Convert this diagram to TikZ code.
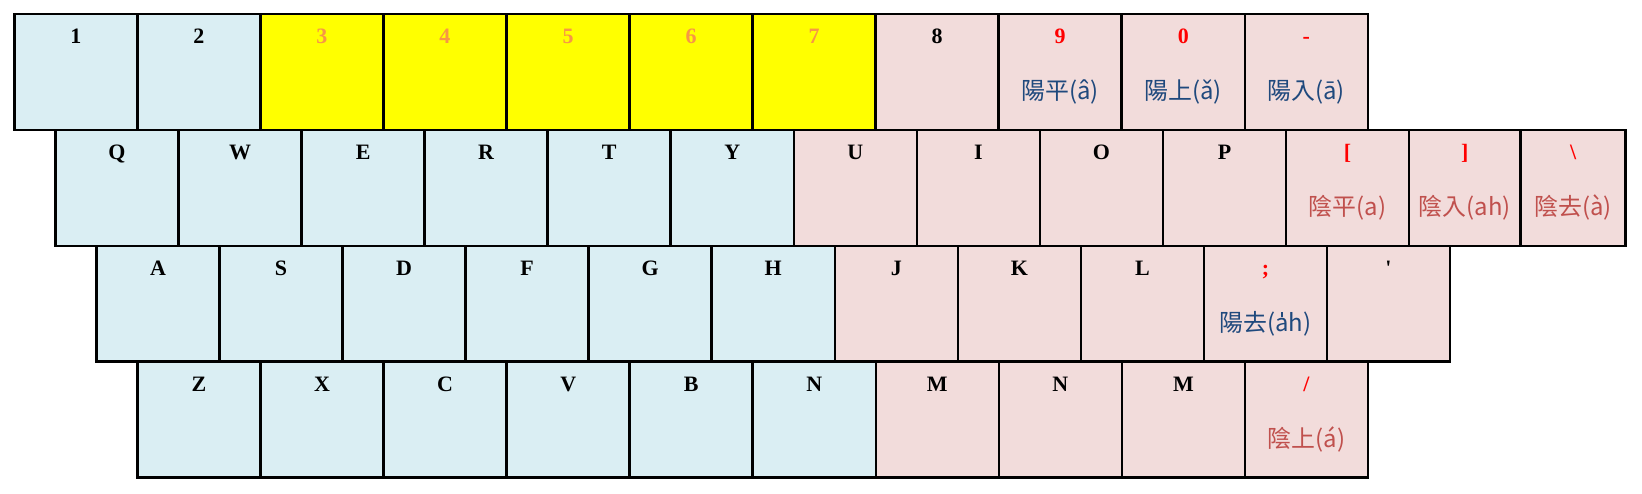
\documentclass[tikz,border=0pt]{standalone}
\usepackage{fontspec}
\setmainfont{Liberation Serif}[Ligatures=TeXOff]
\newfontfamily\cjk{Noto Sans CJK TC}
\usetikzlibrary{positioning}
\definecolor{keyblue}{HTML}{DAEEF3}
\definecolor{keypink}{HTML}{F2DCDB}
\definecolor{keyyellow}{HTML}{FFFF00}
\definecolor{digitorange}{HTML}{F79646}
\definecolor{yangblue}{HTML}{1F497D}
\definecolor{yinred}{HTML}{C0504D}
\newcommand{\kbkey}[5]{%
  \node[#3, #2] (#1) {};
  \node[keylbl, #5] (#1-t) at ([yshift=-0.586cm]#1.north) {#4};}
\newcommand{\tickA}{\ooalign{a\cr\hidewidth\rule[0.6em]{0.07em}{0.2em}\hidewidth\cr}}

\begin{document}
\begin{tikzpicture}[
  key/.style={draw, line width=0.052cm, outer sep=0pt, inner sep=0pt, minimum width=2.461cm, minimum height=2.318cm},
  cold/.style={key, fill=keyblue},
  warm/.style={key, fill=keypink},
  hot/.style={key, fill=keyyellow},
  keylbl/.style={anchor=base, inner sep=0pt, font=\bfseries\fontsize{12.5}{14}\selectfont},
  tone/.style={anchor=base, inner sep=0pt, font=\cjk\fontsize{13.6}{16}\selectfont},
  yang/.style={tone, text=yangblue},
  yin/.style={tone, text=yinred}
]
\useasboundingbox[fill=white] (0,0) rectangle (32.84,-9.86);
% number row
\kbkey{k1}{anchor=north west, at={(0.286,-0.28)}}{cold}{1}{}
\kbkey{k2}{right=0pt of k1}{cold}{2}{}
\kbkey{k3}{right=0pt of k2}{hot}{3}{text=digitorange}
\kbkey{k4}{right=0pt of k3}{hot}{4}{text=digitorange}
\kbkey{k5}{right=0pt of k4}{hot}{5}{text=digitorange}
\kbkey{k6}{right=0pt of k5}{hot}{6}{text=digitorange}
\kbkey{k7}{right=0pt of k6}{hot}{7}{text=digitorange}
\kbkey{k8}{right=0pt of k7}{warm}{8}{}
\kbkey{k9}{right=0pt of k8}{warm}{9}{text=red}
\kbkey{k0}{right=0pt of k9}{warm}{0}{text=red}
\kbkey{kminus}{right=0pt of k0}{warm}{-}{text=red}
% top letter row
\kbkey{kQ}{anchor=north west, at={([xshift=0.824cm]k1.south west)}}{cold}{Q}{}
\kbkey{kW}{right=0pt of kQ}{cold}{W}{}
\kbkey{kE}{right=0pt of kW}{cold}{E}{}
\kbkey{kR}{right=0pt of kE}{cold}{R}{}
\kbkey{kT}{right=0pt of kR}{cold}{T}{}
\kbkey{kY}{right=0pt of kT}{cold}{Y}{}
\kbkey{kU}{right=0pt of kY}{warm}{U}{}
\kbkey{kI}{right=0pt of kU}{warm}{I}{}
\kbkey{kO}{right=0pt of kI}{warm}{O}{}
\kbkey{kP}{right=0pt of kO}{warm}{P}{}
\kbkey{klbrack}{right=0pt of kP}{warm}{[}{text=red}
\kbkey{krbrack}{right=0pt of klbrack, minimum width=2.23cm}{warm}{]}{text=red}
\kbkey{kbslash}{right=0pt of krbrack, minimum width=2.10cm}{warm}{\textbackslash}{text=red}
% home row
\kbkey{kA}{anchor=north west, at={([xshift=0.82cm]kQ.south west)}}{cold}{A}{}
\kbkey{kS}{right=0pt of kA}{cold}{S}{}
\kbkey{kD}{right=0pt of kS}{cold}{D}{}
\kbkey{kF}{right=0pt of kD}{cold}{F}{}
\kbkey{kG}{right=0pt of kF}{cold}{G}{}
\kbkey{kH}{right=0pt of kG}{cold}{H}{}
\kbkey{kJ}{right=0pt of kH}{warm}{J}{}
\kbkey{kK}{right=0pt of kJ}{warm}{K}{}
\kbkey{kL}{right=0pt of kK}{warm}{L}{}
\kbkey{ksemi}{right=0pt of kL}{warm}{;}{text=red}
\kbkey{kquote}{right=0pt of ksemi}{warm}{'}{}
% bottom row
\kbkey{kZ}{anchor=north west, at={([xshift=0.82cm]kA.south west)}}{cold}{Z}{}
\kbkey{kX}{right=0pt of kZ}{cold}{X}{}
\kbkey{kC}{right=0pt of kX}{cold}{C}{}
\kbkey{kV}{right=0pt of kC}{cold}{V}{}
\kbkey{kB}{right=0pt of kV}{cold}{B}{}
\kbkey{kN}{right=0pt of kB}{cold}{N}{}
\kbkey{kM}{right=0pt of kN}{warm}{M}{}
\kbkey{kNb}{right=0pt of kM}{warm}{N}{}
\kbkey{kMb}{right=0pt of kNb}{warm}{M}{}
\kbkey{kslash}{right=0pt of kMb}{warm}{/}{text=red}
% tone names
\node[yang] (t9) at ([yshift=-1.71cm]k9.north) {陽平(â)};
\node[yang] (t0) at ([yshift=-1.71cm]k0.north) {陽上(ǎ)};
\node[yang] (tminus) at ([yshift=-1.71cm]kminus.north) {陽入(ā)};
\node[yin] (tlbrack) at ([yshift=-1.71cm]klbrack.north) {陰平(a)};
\node[yin] (trbrack) at ([yshift=-1.71cm]krbrack.north) {陰入(ah)};
\node[yin] (tbslash) at ([yshift=-1.71cm]kbslash.north) {陰去(à)};
\node[yang] (tsemi) at ([yshift=-1.71cm]ksemi.north) {陽去(\tickA h)};
\node[yin] (tslash) at ([yshift=-1.71cm]kslash.north) {陰上(á)};
\end{tikzpicture}
\end{document}
